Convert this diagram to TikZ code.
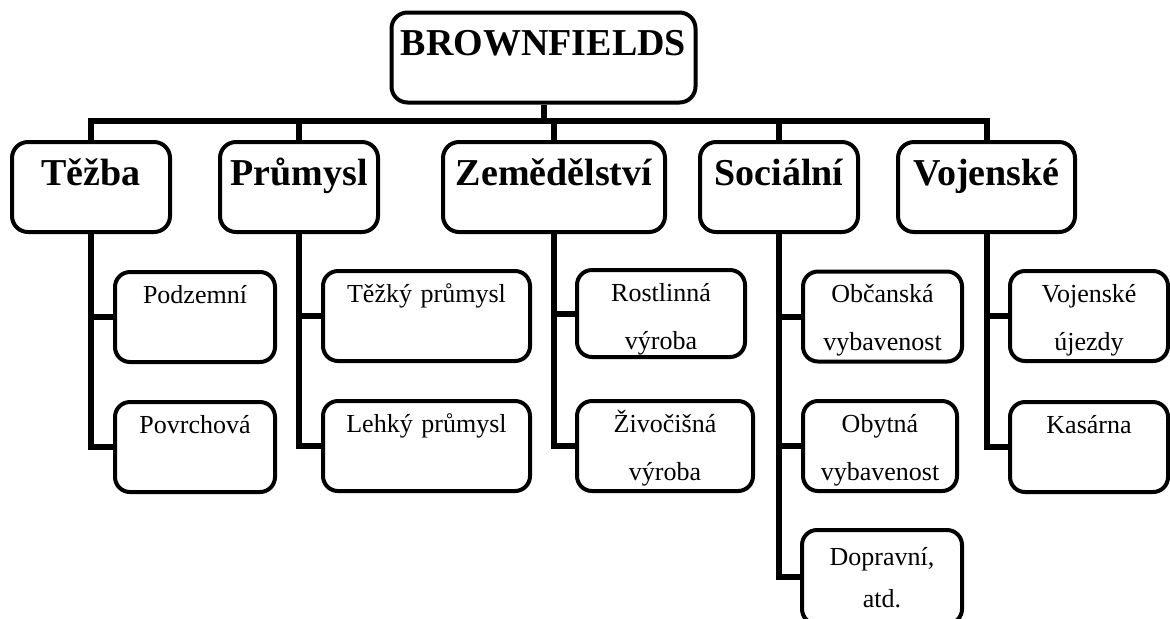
\documentclass[tikz,border=0pt]{standalone}
\usepackage{fontspec}
\setmainfont{Liberation Serif}
\usetikzlibrary{calc}
\tikzset{>=latex}
\tikzset{
    head/.style={draw, line width=2pt, rounded corners=8pt, align=center,
        inner xsep=0pt, inner ysep=7.5pt, text height=14pt, text depth=16pt,
        font=\fontsize{19}{23}\selectfont\bfseries},
    leaf/.style={draw, line width=2pt, rounded corners=7.5pt, align=center,
        inner xsep=0pt, inner ysep=5.5pt, text height=10pt, text depth=24pt,
        font=\fontsize{13}{24}\selectfont},
    link/.style={line width=3pt},
}

\begin{document}
\begin{tikzpicture}[x=0.5pt, y=-0.5pt]

    \def\W{1170};
    \def\H{618};
    \useasboundingbox (0, 0) rectangle (\W, \H);
    \clip (0, 0) rectangle (\W, \H);

    % top
    \node[head, text width=152pt] (root) at (543.5, 57.5) {BROWNFIELDS};
    \coordinate (bar) at (543, 121);

    % kategorie
    \node[head, text width=79pt] (tezba) at (91, 187) {Těžba};
    \node[head, text width=79pt] (prum) at (299, 187) {Průmysl};
    \node[head, text width=111pt] (zem) at (554, 187) {Zemědělství};
    \node[head, text width=79pt] (soc) at (779, 187) {Sociální};
    \node[head, text width=88.5pt] (voj) at (986.5, 187) {Vojenské};

    \draw[link] (root.south) -- (root.south |- bar);
    \draw[link] (tezba.north) |- (bar) -| (voj.north);
    \foreach \n in {prum, zem, soc}
        \draw[link] (\n.north) -- (\n.north |- bar);

    % podkategorie
    \node[leaf, text width=80pt] (podz) at (195, 317) {Podzemní};
    \node[leaf, text width=80pt] (povr) at (195, 447) {Povrchová};

    \node[leaf, text width=103.5pt] (tezky) at (426.5, 316) {Těžký průmysl};
    \node[leaf, text width=103.5pt] (lehky) at (426.5, 446) {Lehký průmysl};

    \node[leaf, text width=84pt, text depth=22.5pt] (rostl) at (661, 313.5) {Rostlinná\\ výroba};
    \node[leaf, text width=88pt] (zivoc) at (665, 446) {Živočišná\\ výroba};

    \node[leaf, text width=79.5pt] (obc) at (882.5, 316.5) {Občanská\\ vybavenost};
    \node[leaf, text width=77pt] (obyt) at (880, 446) {Obytná\\ vybavenost};
    \node[leaf, text width=80pt, text height=12pt, text depth=24pt,
        font=\fontsize{13}{21}\selectfont] (dopr) at (882, 577) {Dopravní,\\ atd.};

    \node[leaf, text width=79pt] (ujezd) at (1089, 316) {Vojenské\\ újezdy};
    \node[leaf, text width=79pt] (kas) at (1089, 447) {Kasárna};

    \draw[link] (tezba.south) |- (podz.west);
    \draw[link] (tezba.south) |- (povr.west);
    \draw[link] (prum.south) |- (tezky.west);
    \draw[link] (prum.south) |- (lehky.west);
    \draw[link] (zem.south) |- (rostl.west);
    \draw[link] (zem.south) |- (zivoc.west);
    \draw[link] (soc.south) |- (obc.west);
    \draw[link] (soc.south) |- (obyt.west);
    \draw[link] (soc.south) |- (dopr.west);
    \draw[link] (voj.south) |- (ujezd.west);
    \draw[link] (voj.south) |- (kas.west);

\end{tikzpicture}
\end{document}
